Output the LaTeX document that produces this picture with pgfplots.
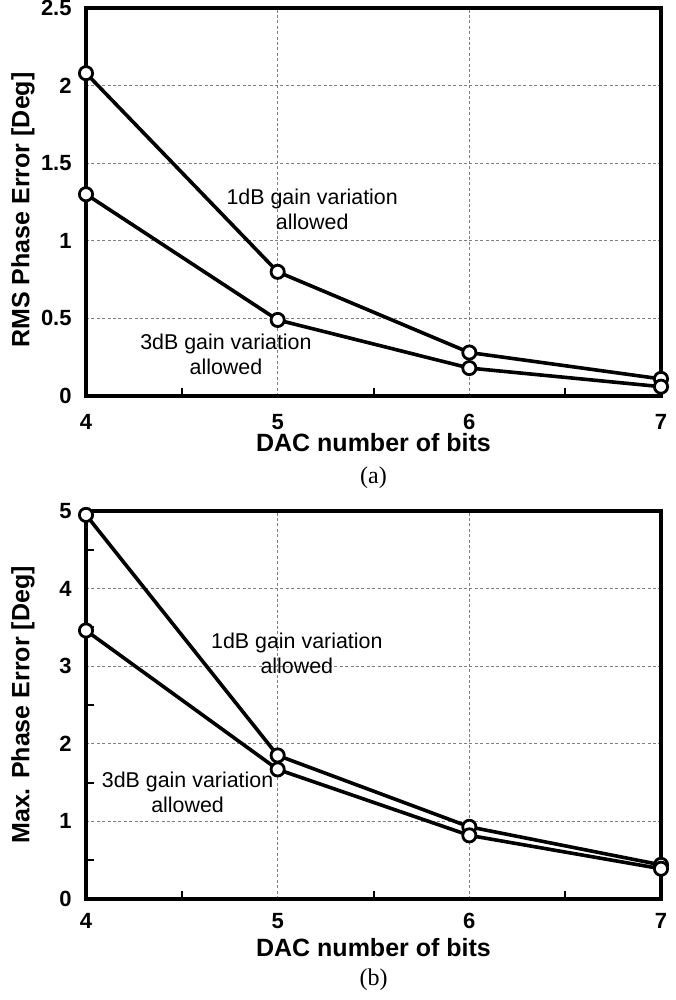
\documentclass[border=0pt]{standalone}
\usepackage{pgfplots}
\pgfplotsset{compat=1.18}
\usepackage{fontspec}
\setmainfont{Liberation Sans}
\newfontfamily\capfont{Liberation Serif}
\begin{document}
\begin{tikzpicture}
\useasboundingbox (0,0) rectangle (337.5pt,500pt);
\pgfplotsset{
  myline/.style={black, line width=1.8pt, mark=*, mark size=3.3pt, mark options={fill=white, draw=black, line width=1.4pt, solid}},
  myaxis/.style={
    scale only axis,
    width=287.5pt, height=194pt,
    xmin=4, xmax=7,
    xtick={4,5,6,7},
    minor xtick={4.5,5.5,6.5},
    axis line style={line width=2.2pt},
    tick align=inside,
    tick pos=left,
    major tick length=0pt,
    minor tick length=4pt,
    every minor tick/.style={line width=1pt, black},
    grid=major,
    major grid style={dash pattern=on 1.5pt off 1.2pt, gray, line width=0.6pt},
    /pgf/number format/assume math mode=true,
    ticklabel style={font=\bfseries\fontsize{11}{12}\selectfont, inner sep=0pt},
    yticklabel style={anchor=east, xshift=-7pt},
    clip=false,
  }
}
\begin{axis}[myaxis,
  at={(43pt,302pt)}, anchor=south west,
  ymin=0, ymax=2.5,
  ytick={0,0.5,1,1.5,2,2.5},
  xticklabel style={anchor=north, yshift=-9pt},
  xlabel={DAC number of bits},
  ylabel={RMS Phase Error [Deg]},
  every axis x label/.style={at={([yshift=-23.5pt]axis description cs:0.5,0)}, anchor=center, font=\bfseries\fontsize{12.5}{14}\selectfont},
  every axis y label/.style={at={([xshift=-31.5pt,yshift=-4pt]axis description cs:0,0.5)}, rotate=90, anchor=center, font=\bfseries\fontsize{12.5}{14}\selectfont},
]
\addplot[myline] coordinates {(4,2.08) (5,0.80) (6,0.28) (7,0.11)};
\addplot[myline] coordinates {(4,1.30) (5,0.49) (6,0.18) (7,0.06)};
\node[align=center, font=\fontsize{10.7}{12.5}\selectfont] at (axis cs:5.18,1.20) {1dB gain variation\\allowed};
\node[align=center, font=\fontsize{10.7}{12.5}\selectfont] at (axis cs:4.73,0.27) {3dB gain variation\\allowed};
\node[font=\capfont\fontsize{12}{14}\selectfont] at ([yshift=-41pt]axis description cs:0.5,0) {(a)};
\end{axis}
\begin{axis}[myaxis,
  at={(43pt,50.5pt)}, anchor=south west,
  ymin=0, ymax=5,
  ytick={0,1,2,3,4,5},
  minor ytick={0.5,1.5,2.5,3.5,4.5},
  xticklabel style={anchor=north, yshift=-7pt},
  xlabel={DAC number of bits},
  ylabel={Max. Phase Error [Deg]},
  every axis x label/.style={at={([yshift=-24.5pt]axis description cs:0.5,0)}, anchor=center, font=\bfseries\fontsize{12.5}{14}\selectfont},
  every axis y label/.style={at={([xshift=-31.5pt]axis description cs:0,0.5)}, rotate=90, anchor=center, font=\bfseries\fontsize{12.5}{14}\selectfont},
]
\addplot[myline] coordinates {(4,4.95) (5,1.85) (6,0.93) (7,0.44)};
\addplot[myline] coordinates {(4,3.46) (5,1.67) (6,0.82) (7,0.39)};
\node[align=center, font=\fontsize{10.7}{12.5}\selectfont] at (axis cs:5.10,3.17) {1dB gain variation\\allowed};
\node[align=center, font=\fontsize{10.7}{12.5}\selectfont] at (axis cs:4.53,1.37) {3dB gain variation\\allowed};
\node[font=\capfont\fontsize{12}{14}\selectfont] at ([yshift=-40.5pt]axis description cs:0.5,0) {(b)};
\end{axis}
\end{tikzpicture}
\end{document}
